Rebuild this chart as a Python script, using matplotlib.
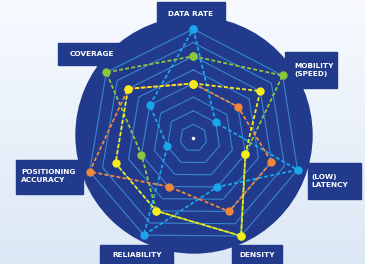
import numpy as np
import matplotlib.pyplot as plt
from matplotlib.patches import Circle, Rectangle

# axes of the radar, clockwise from the top
categories = ['DATA RATE', 'MOBILITY\n(SPEED)', '(LOW)\nLATENCY', 'DENSITY',
              'RELIABILITY', 'POSITIONING\nACCURACY', 'COVERAGE']
n_rings = 8

# scores per series (0..8 on the ring scale)
blue_vals = [8, 2, 8, 4, 8, 2, 4]
green_vals = [6, 8, 4, 8, 6, 4, 8]
orange_vals = [4, 4, 6, 6, 4, 8, 6]
yellow_vals = [4, 6, 4, 8, 6, 6, 6]

# layout (pixels)
W, H = 365, 264
spoke_deg = [0, 55, 107, 154, 207, 252, 307]
cx, cy, R = 193.3, 138, 109
navy = '#213a8c'
ring_col = '#3a84cf'

# label boxes: x0, y0, x1, y1, text x, text y, ha
boxes = [
    (157, 2, 225, 25, 191, 14, 'center'),
    (285, 52, 337, 88, 294, 70, 'left'),
    (308, 163, 361, 199, 311, 181, 'left'),
    (232, 245, 282, 270, 257, 255, 'center'),
    (100, 245, 173, 270, 137, 255, 'center'),
    (16, 160, 83, 194, 21, 176, 'left'),
    (58, 43, 125, 65, 92, 54, 'center'),
]

fig = plt.figure(figsize=(W / 100, H / 100), dpi=100)

bg = fig.add_axes([0, 0, 1, 1])
bg.set_xlim(0, W)
bg.set_ylim(H, 0)
bg.axis('off')
grad = np.linspace(0, 1, 100)[:, None] * np.ones((1, 10))
top = np.array([0.97, 0.98, 1.0])
bot = np.array([0.86, 0.91, 0.96])
img = top[None, None, :] * (1 - grad[..., None]) + bot[None, None, :] * grad[..., None]
bg.imshow(img, extent=[0, W, H, 0], aspect='auto', zorder=0)
bg.add_patch(Circle((194, 135), 118, color=navy, zorder=1))
for (x0, y0, x1, y1, tx, ty, ha), lab in zip(boxes, categories):
    bg.add_patch(Rectangle((x0, y0), x1 - x0, y1 - y0, color=navy, zorder=2))
    bg.text(tx, ty, lab, color='white', fontsize=5.3, fontweight='bold',
            ha=ha, va='center', linespacing=1.5, zorder=3)

ax = fig.add_axes([(cx - R) / W, (H - cy - R) / H, 2 * R / W, 2 * R / H],
                  projection='polar')
ax.patch.set_alpha(0)
ax.set_theta_zero_location('N')
ax.set_theta_direction(-1)
ax.set_ylim(0, n_rings)
ax.set_xticks([])
ax.set_yticks([])
ax.grid(False)
ax.spines['polar'].set_visible(False)

theta = np.deg2rad(spoke_deg)
closed = np.append(theta, theta[0])
for k in range(1, n_rings + 1):
    ax.plot(closed, [k] * len(closed), color=ring_col, lw=0.8, clip_on=False)
ax.plot([0], [0], 'o', color='white', ms=1.5)

series = [(blue_vals, '#1aa6ea'), (green_vals, '#8cc63f'),
          (orange_vals, '#f0883a'), (yellow_vals, '#f7ec1a')]
for vals, col in series:
    ax.plot(closed, vals + vals[:1], color=col, lw=1.3, ls=(0, (2.2, 1.2)),
            marker='o', ms=5, clip_on=False)

fig.savefig('out.png', dpi=100)
